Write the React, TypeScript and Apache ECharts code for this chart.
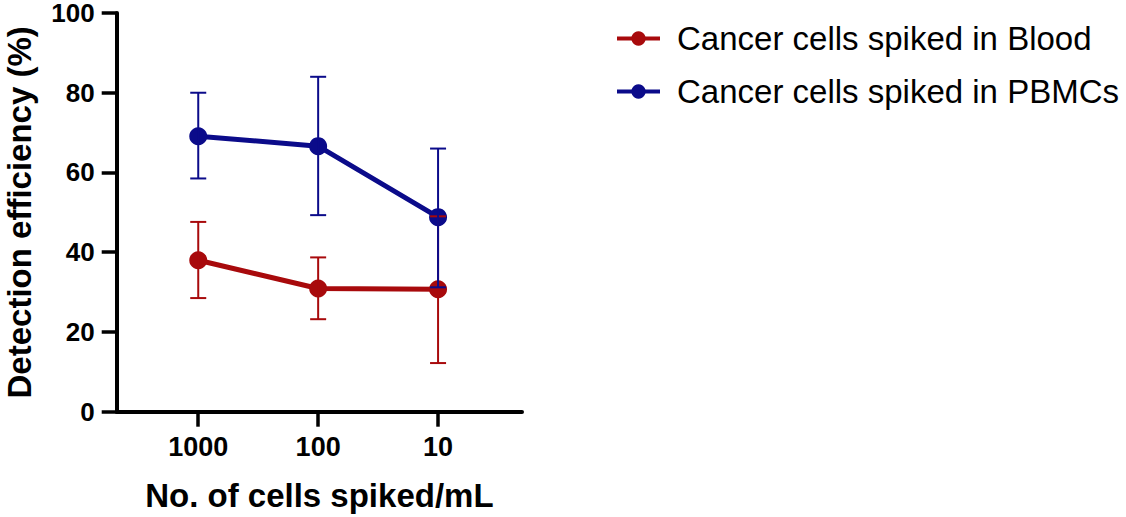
import React, { useEffect, useRef } from "react";
import * as echarts from "echarts";

const categories = ["1000", "100", "10"];
const xPositions = [1, 2, 3];
const bloodMean = [38.0, 30.9, 30.7];
const bloodLow = [28.5, 23.2, 12.2];
const bloodHigh = [47.6, 38.7, 49.0];
const pbmcMean = [69.1, 66.6, 48.8];
const pbmcLow = [58.5, 49.3, 31.2];
const pbmcHigh = [80.0, 84.0, 66.0];
const yTicks = [0, 20, 40, 60, 80, 100];

const seriesNames = ["Cancer cells spiked in Blood", "Cancer cells spiked in PBMCs"];
const RED = "#A80A0C";
const BLUE = "#0B0B8A";
const FONT = "'Liberation Sans', Arial, Helvetica, sans-serif";

function errRender(color: string) {
  return (params: any, api: any) => {
    const x = api.value(0);
    const lo = api.value(1);
    const hi = api.value(2);
    const pLo = api.coord([x, lo]);
    const pHi = api.coord([x, hi]);
    const w = 8;
    const style = { stroke: color, lineWidth: 2 };
    return {
      type: "group",
      children: [
        { type: "line", shape: { x1: pLo[0], y1: pLo[1], x2: pHi[0], y2: pHi[1] }, style },
        { type: "line", shape: { x1: pLo[0] - w, y1: pLo[1], x2: pLo[0] + w, y2: pLo[1] }, style },
        { type: "line", shape: { x1: pHi[0] - w, y1: pHi[1], x2: pHi[0] + w, y2: pHi[1] }, style },
      ],
    };
  };
}

export default function App() {
  const ref = useRef<HTMLDivElement>(null);
  useEffect(() => {
    if (!ref.current) return;
    const chart = echarts.init(ref.current, undefined, { renderer: "svg" });
    const bloodLine = xPositions.map((x, i) => [x, bloodMean[i]]);
    const pbmcLine = xPositions.map((x, i) => [x, pbmcMean[i]]);
    const bloodErr = xPositions.map((x, i) => [x, bloodLow[i], bloodHigh[i]]);
    const pbmcErr = xPositions.map((x, i) => [x, pbmcLow[i], pbmcHigh[i]]);
    chart.setOption({
      animation: false,
      textStyle: { fontFamily: FONT },
      grid: { left: 116.7, top: 12.5, width: 405.3, height: 399.2, containLabel: false },
      legend: {
        data: seriesNames,
        orient: "vertical",
        left: 610,
        top: 17,
        itemWidth: 43,
        itemHeight: 18,
        itemGap: 20,
        lineStyle: { width: 4 },
        textStyle: {
          fontFamily: FONT,
          fontSize: 33,
          color: "#000",
          lineHeight: 33,
          padding: [0, 0, 0, 12],
        },
      },
      xAxis: {
        type: "value",
        min: 0.32,
        max: 3.7,
        name: "No. of cells spiked/mL",
        nameLocation: "middle",
        nameGap: 67,
        nameTextStyle: { fontFamily: FONT, fontSize: 33, fontWeight: "bold", color: "#000", lineHeight: 33 },
        axisLine: { show: true, lineStyle: { color: "#000", width: 4 } },
        axisTick: { show: true, customValues: xPositions, length: 15, lineStyle: { color: "#000", width: 3.5 } },
        axisLabel: {
          customValues: xPositions,
          margin: 22,
          fontFamily: FONT,
          fontSize: 27,
          fontWeight: "bold",
          color: "#000",
          formatter: (v: number) => categories[xPositions.indexOf(Math.round(v))] ?? "",
        },
        splitLine: { show: false },
      },
      yAxis: {
        type: "value",
        min: 0,
        max: 100,
        interval: 20,
        name: "Detection efficiency (%)",
        nameLocation: "middle",
        nameRotate: 90,
        nameGap: 81,
        nameTextStyle: { fontFamily: FONT, fontSize: 33, fontWeight: "bold", color: "#000", lineHeight: 33 },
        axisLine: { show: true, lineStyle: { color: "#000", width: 4 } },
        axisTick: { show: true, length: 15, lineStyle: { color: "#000", width: 3.5 } },
        axisLabel: {
          margin: 22,
          fontFamily: FONT,
          fontSize: 26,
          fontWeight: "bold",
          color: "#000",
          formatter: (v: number) => (yTicks.indexOf(v) >= 0 ? String(v) : ""),
        },
        splitLine: { show: false },
      },
      series: [
        {
          name: seriesNames[0],
          type: "line",
          data: bloodLine,
          symbol: "circle",
          symbolSize: 18,
          itemStyle: { color: RED },
          lineStyle: { color: RED, width: 5 },
          z: 2,
        },
        {
          name: seriesNames[1],
          type: "line",
          data: pbmcLine,
          symbol: "circle",
          symbolSize: 18,
          itemStyle: { color: BLUE },
          lineStyle: { color: BLUE, width: 5 },
          z: 2,
        },
        {
          name: "blood-error",
          type: "custom",
          data: bloodErr,
          encode: { x: 0, y: [1, 2] },
          renderItem: errRender(RED),
          z: 5,
        },
        {
          name: "pbmc-error",
          type: "custom",
          data: pbmcErr,
          encode: { x: 0, y: [1, 2] },
          renderItem: errRender(BLUE),
          z: 5,
        },
      ],
    });
    return () => chart.dispose();
  }, []);
  return (
    <div
      ref={ref}
      style={{ position: "absolute", left: 0, top: 0, width: 1126, height: 517, background: "#fff" }}
    />
  );
}
